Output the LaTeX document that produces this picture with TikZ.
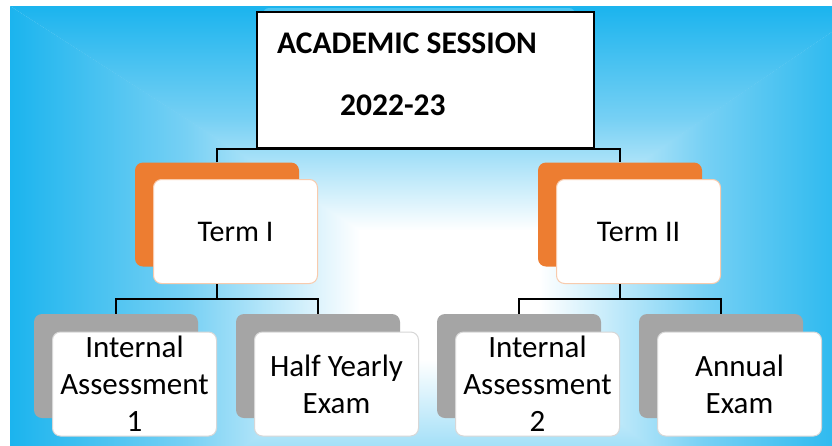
\documentclass[tikz,border=0pt]{standalone}
\usepackage{fontspec}
\setmainfont{Carlito}
\definecolor{bgblue}{RGB}{27,180,238}
\definecolor{bgmid}{RGB}{118,208,244}
\definecolor{termorange}{RGB}{237,125,49}
\definecolor{termedge}{RGB}{248,203,173}
\definecolor{leafgray}{RGB}{165,165,165}
\definecolor{leafedge}{RGB}{215,215,215}
\begin{document}
\begin{tikzpicture}[x=1pt,y=-1pt,
  conn/.style={draw=black, line width=2.2pt},
  backbox/.style={rounded corners=8pt, minimum width=164pt, minimum height=104pt, inner sep=0pt},
  frontbox/.style={rounded corners=8pt, minimum width=164pt, minimum height=104pt, inner sep=0pt,
    fill=white, line width=1pt, align=center},
  termback/.style={backbox, fill=termorange},
  termfront/.style={frontbox, draw=termedge, font=\fontsize{30}{36}\selectfont},
  leafback/.style={backbox, fill=leafgray},
  leaffront/.style={frontbox, draw=leafedge, font=\fontsize{31}{37}\selectfont},
  titletext/.style={anchor=base west, inner sep=0pt, font=\bfseries\fontsize{31.5}{36}\selectfont}
]
\useasboundingbox (0,0) rectangle (832,445);
\fill[white] (0,0) rectangle (832,445);
% background gradient
\begin{scope}
  \clip (10,6) rectangle (832,445);
  \begin{scope}
    \clip (10,6) -- (360.5,230) -- (360.5,360) -- (10,620) -- cycle;
    \shade[left color=bgblue, right color=white, middle color=bgmid] (10,6) rectangle (360.5,620);
  \end{scope}
  \begin{scope}
    \clip (539.5,230) -- (870,6) -- (870,620) -- (539.5,360) -- cycle;
    \shade[left color=white, right color=bgblue, middle color=bgmid] (539.5,6) rectangle (870,620);
  \end{scope}
  \begin{scope}
    \clip (10,6) -- (870,6) -- (540,230.5) -- (360,230.5) -- cycle;
    \shade[top color=bgblue, bottom color=white, middle color=bgmid] (10,6) rectangle (870,230.5);
  \end{scope}
  \begin{scope}
    \clip (10,620) -- (870,620) -- (540,359.5) -- (360,359.5) -- cycle;
    \shade[top color=white, bottom color=bgblue, middle color=bgmid] (10,359.5) rectangle (870,620);
  \end{scope}
  \fill[white] (360,230) rectangle (540,360);
\end{scope}
% faint shape behind the top box
\fill[white, opacity=0.22, rounded corners=6pt] (263,8) rectangle (575,60);
% top box
\node[draw=black, fill=white, line width=1.4pt, minimum width=337pt, minimum height=136pt, inner sep=0pt] (top) at (425.5,80) {};
\node[titletext] (title1) at (277,53) {ACADEMIC SESSION};
\node[titletext] (title2) at (340,115) {2022-23};
% terms
\node[termback] (t1b) at (217,214.5) {};
\node[termfront] (t1) at (235.5,231.5) {Term I};
\node[termback] (t2b) at (620,214.5) {};
\node[termfront] (t2) at (638.5,231.5) {Term II};
% leaves
\node[leafback] (a1b) at (116,366) {};
\node[leaffront] (a1) at (134.5,384) {Internal\\Assessment\\1};
\node[leafback] (h1b) at (318,366) {};
\node[leaffront] (h1) at (336.5,384) {Half Yearly\\Exam};
\node[leafback] (a2b) at (519,366) {};
\node[leaffront] (a2) at (537.5,384) {Internal\\Assessment\\2};
\node[leafback] (e2b) at (721,366) {};
\node[leaffront] (e2) at (739.5,384) {Annual\\Exam};
% connectors
\draw[conn] (t1b.north) |- (top.south) -| (t2b.north);
\coordinate (j1) at (217,299);
\coordinate (j2) at (620,299);
\draw[conn] (t1.south -| j1) -- (j1);
\draw[conn] (a1b.north) |- (j1) -| (h1b.north);
\draw[conn] (t2.south -| j2) -- (j2);
\draw[conn] (a2b.north) |- (j2) -| (e2b.north);
\end{tikzpicture}
\end{document}
